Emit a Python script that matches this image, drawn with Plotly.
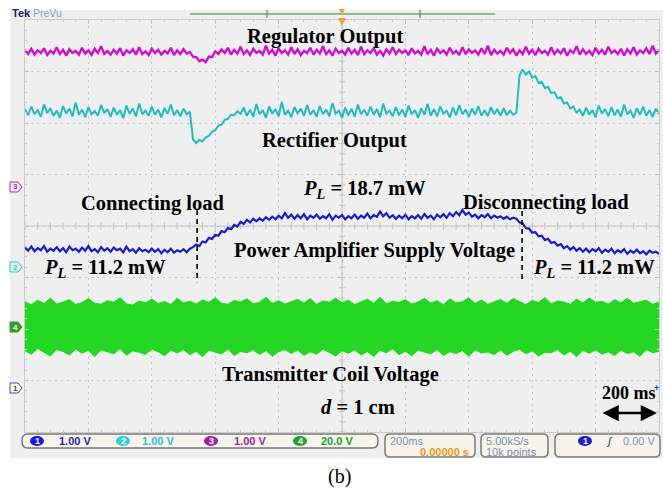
import plotly.graph_objects as go

W, H = 663, 491
SERIF = "Liberation Serif, Times New Roman, serif"
SANS = "Liberation Sans, Arial, sans-serif"

# ---------------- data (read from the scope capture) ----------------
time_ms = list(range(-1000, 1001, 10))          # 200 ms/div, 10 divisions
env_time_ms = list(range(-1000, 1001, 20))

ch_scale = {1: 1.0, 2: 1.0, 3: 1.0, 4: 20.0}      # V/div
ch_offset = {1: -3.15, 2: -0.80, 3: 0.76, 4: -1.96}  # ground marker position (div)
ch_volts_label = ["1.00 V", "1.00 V", "1.00 V", "20.0 V"]

# Channel 3 : Regulator Output (V)
regulator_v = [
    2.66, 2.58, 2.68, 2.57, 2.65, 2.60, 2.69, 2.56, 2.64, 2.59,
    2.71, 2.58, 2.66, 2.55, 2.67, 2.60, 2.64, 2.57, 2.70, 2.59,
    2.65, 2.56, 2.68, 2.60, 2.73, 2.58, 2.64, 2.57, 2.66, 2.59,
    2.69, 2.55, 2.65, 2.60, 2.67, 2.57, 2.71, 2.58, 2.63, 2.56,
    2.68, 2.60, 2.66, 2.57, 2.64, 2.59, 2.70, 2.56, 2.65, 2.58,
    2.67, 2.59,
    2.62, 2.53, 2.52, 2.44, 2.47, 2.42, 2.53, 2.52, 2.63,
    2.58, 2.67, 2.60, 2.70, 2.57, 2.66, 2.59, 2.72, 2.58, 2.65,
    2.56, 2.68, 2.60, 2.64, 2.57, 2.74, 2.59, 2.66, 2.55, 2.69,
    2.60, 2.65, 2.57, 2.71, 2.58, 2.67, 2.56, 2.64, 2.60, 2.70,
    2.57, 2.66, 2.59, 2.73, 2.58, 2.65, 2.55, 2.68, 2.60, 2.64,
    2.57, 2.70, 2.59, 2.66, 2.56, 2.72, 2.58, 2.65, 2.60, 2.69,
    2.57, 2.64, 2.55, 2.67, 2.59, 2.71, 2.58, 2.66, 2.60, 2.65,
    2.56, 2.69, 2.59, 2.64, 2.57, 2.73, 2.58, 2.66, 2.55, 2.68,
    2.60, 2.65, 2.57, 2.70, 2.59, 2.64, 2.56, 2.71, 2.58, 2.67,
    2.60, 2.65, 2.57, 2.69, 2.58, 2.74, 2.56, 2.66, 2.59, 2.64,
    2.57, 2.70, 2.60, 2.67, 2.55, 2.65, 2.58, 2.72, 2.59, 2.66,
    2.56, 2.68, 2.60, 2.64, 2.57, 2.71, 2.58, 2.66, 2.59, 2.69,
    2.55, 2.65, 2.60, 2.73, 2.57, 2.67, 2.58, 2.64, 2.56, 2.70,
    2.59, 2.66, 2.57, 2.72, 2.60, 2.65, 2.58, 2.68, 2.55, 2.67,
    2.59, 2.71, 2.57, 2.65, 2.60, 2.69, 2.58, 2.74, 2.59, 2.66,
]

# Channel 2 : Rectifier Output (V)
rectifier_v = [
    3.07, 2.95, 3.12, 2.97, 3.05, 2.92, 3.16, 2.99, 3.09, 2.94,
    3.04, 2.90, 3.13, 2.98, 3.08, 2.93, 3.20, 2.96, 3.06, 2.91,
    3.11, 2.97, 3.03, 2.94, 3.15, 2.99, 3.07, 2.92, 3.10, 2.96,
    3.05, 2.89, 3.14, 2.98, 3.08, 2.93, 3.18, 2.97, 3.04, 2.94,
    3.12, 2.96, 3.06, 2.91, 3.09, 2.98, 3.16, 2.95, 3.05, 2.93,
    3.08, 2.97,
    3.02, 2.48, 2.41, 2.47, 2.44, 2.52, 2.55, 2.63, 2.66, 2.75,
    2.77, 2.86, 2.88, 2.96, 2.95, 3.03, 2.98,
    3.10, 2.94, 3.06, 2.92, 3.17, 2.97, 3.05, 2.90, 3.12, 2.98,
    3.07, 2.93, 3.21, 2.96, 3.04, 2.91, 3.11, 2.99, 3.08, 2.94,
    3.15, 2.96, 3.05, 2.92, 3.13, 2.97, 3.06, 2.93, 3.19, 2.98,
    3.04, 2.90, 3.10, 2.95, 3.08, 2.92, 3.16, 2.97, 3.05, 2.94,
    3.12, 2.96, 3.07, 2.91, 3.18, 2.98, 3.04, 2.93, 3.11, 2.95,
    3.06, 2.92, 3.14, 2.97, 3.05, 2.90, 3.09, 2.96, 3.17, 2.94,
    3.07, 2.93, 3.12, 2.98, 3.04, 2.91, 3.10, 2.95, 3.15, 2.97,
    3.06, 2.92, 3.08, 2.96, 3.13, 2.94, 3.05, 2.93, 3.11, 2.97,
    3.07, 2.94, 3.09, 2.95, 3.04, 2.96,
    3.00, 3.72, 3.84, 3.74, 3.80, 3.68, 3.71, 3.58, 3.60, 3.48,
    3.50, 3.38, 3.40, 3.28, 3.30, 3.18, 3.20, 3.08, 3.12, 3.00, 3.06,
    2.94, 3.10, 2.96, 3.05, 2.91, 3.14, 2.98, 3.07, 2.93, 3.11,
    2.95, 3.06, 2.92, 3.16, 2.97, 3.04, 2.90, 3.09, 2.96, 3.12,
    2.94, 3.05, 2.92, 3.08, 2.97,
]

# Channel 1 : Power Amplifier Supply Voltage (V)
pa_supply_v = [
    2.73, 2.67, 2.75, 2.66, 2.72, 2.68, 2.76, 2.65, 2.71, 2.67,
    2.74, 2.66, 2.72, 2.64, 2.75, 2.68, 2.71, 2.65, 2.73, 2.67,
    2.76, 2.66, 2.70, 2.64, 2.74, 2.67, 2.72, 2.65, 2.73, 2.68,
    2.71, 2.64, 2.75, 2.66, 2.70, 2.63, 2.72, 2.66, 2.69, 2.64,
    2.71, 2.65, 2.70, 2.62, 2.69, 2.64, 2.71, 2.63, 2.68, 2.65,
    2.70, 2.64, 2.71,
    2.74, 2.79, 2.76, 2.85, 2.83, 2.92, 2.90, 2.98, 2.96, 3.05,
    3.03, 3.11, 3.09, 3.17, 3.14, 3.23, 3.19, 3.27, 3.22, 3.29,
    3.24, 3.30, 3.25, 3.32, 3.27, 3.33, 3.28, 3.35, 3.30,
    3.40, 3.31, 3.37, 3.29, 3.36, 3.30, 3.38, 3.28, 3.35, 3.31,
    3.37, 3.29, 3.34, 3.30, 3.38, 3.27, 3.35, 3.31, 3.36, 3.28,
    3.34, 3.30, 3.37, 3.29, 3.35, 3.31, 3.39, 3.30, 3.36, 3.33,
    3.43, 3.34, 3.40, 3.31, 3.36, 3.29, 3.35, 3.30, 3.37, 3.28,
    3.34, 3.30, 3.36, 3.29, 3.38, 3.31, 3.35, 3.28, 3.37, 3.32,
    3.38, 3.31, 3.40, 3.34, 3.42, 3.36, 3.46, 3.37, 3.41, 3.33,
    3.37, 3.30, 3.36, 3.32, 3.38, 3.30, 3.35, 3.31, 3.34, 3.29,
    3.33, 3.28, 3.31,
    3.29, 3.22, 3.20, 3.11, 3.10, 3.02, 3.03, 2.95, 2.96, 2.88,
    2.90, 2.82, 2.84, 2.77, 2.80, 2.72, 2.76, 2.69, 2.74, 2.67, 2.72,
    2.65, 2.71, 2.64, 2.70, 2.66, 2.72, 2.63, 2.69, 2.65, 2.71,
    2.62, 2.68, 2.64, 2.70, 2.61, 2.67, 2.63, 2.69, 2.62, 2.66,
    2.60, 2.67, 2.63, 2.65, 2.61,
]

# Channel 4 : Transmitter Coil Voltage envelope (V)
coil_upper_v = [
    9.8, 8.6, 10.4, 9.1, 11.2, 8.9, 9.7, 10.6, 8.7, 9.5, 11.0, 9.2, 8.8, 10.2, 9.6, 11.4, 9.0, 8.5, 10.1, 9.4,
    10.8, 9.1, 9.9, 8.7, 11.1, 9.3, 10.0, 8.9, 10.5, 9.6, 11.3, 9.2, 8.8, 10.3, 9.7, 10.9, 9.0, 9.5, 11.6, 9.1,
    10.2, 8.9, 9.8, 10.7, 9.3, 11.0, 8.8, 10.1, 9.6, 11.2, 9.4, 10.4, 8.7, 9.9, 10.8, 9.2, 11.5, 9.0, 10.0, 9.5,
    10.6, 8.9, 9.7, 11.1, 9.3, 10.2, 8.6, 10.9, 9.4, 9.8, 11.3, 9.1, 10.5, 8.8, 9.6, 10.7, 9.2, 11.0, 9.9, 8.7,
    10.3, 9.5, 11.4, 9.0, 10.1, 9.7, 8.8, 10.8, 9.3, 11.2, 9.6, 10.0, 8.9, 10.6, 9.4, 11.1, 9.2, 9.9, 10.4, 8.8, 9.7,
]
coil_lower_v = [
    -9.2, -10.6, -8.4, -9.9, -11.3, -8.8, -9.5, -10.9, -8.6, -10.2, -9.1, -11.5, -8.9, -9.7, -10.4, -8.5, -11.0, -9.3, -9.8, -10.7,
    -8.7, -9.6, -11.2, -9.0, -10.1, -8.8, -10.8, -9.4, -11.6, -9.1, -9.9, -10.5, -8.6, -11.1, -9.5, -10.0, -8.9, -10.7, -9.2, -11.4,
    -9.6, -8.8, -10.3, -9.0, -11.0, -9.7, -10.6, -8.7, -9.9, -11.3, -9.2, -10.2, -8.9, -10.9, -9.5, -11.5, -9.1, -10.0, -8.6, -10.8,
    -9.4, -11.2, -9.0, -9.8, -10.5, -8.8, -11.1, -9.6, -10.3, -9.2, -11.4, -8.9, -10.1, -9.7, -10.7, -9.0, -11.0, -9.5, -8.7, -10.4,
    -9.3, -11.3, -9.8, -10.0, -8.8, -10.9, -9.4, -11.6, -9.1, -10.2, -8.9, -10.6, -9.6, -11.1, -9.0, -10.3, -9.7, -11.4, -8.8, -10.0, -9.5,
]

event_ms = [-457, 568]            # connecting / disconnecting load

ch_color = {1: "#1c1cc8", 2: "#22bcbc", 3: "#cc10cc", 4: "#22d622"}
ch_width = {1: 2.2, 2: 2.0, 3: 2.4}

# ---------------- helpers ----------------
def px(x, y):
    return x / W, 1 - y / H

fig = go.Figure()
axes_for = {1: "y2", 2: "y3", 3: "y4", 4: "y5"}

# graticule centre ticks
tx, ty = [-1000, 1000, None, 0, 0, None], [0, 0, None, -4, 4, None]
for k in range(-25, 26):
    tx += [k * 40, k * 40, None]
    ty += [-0.07, 0.07, None]
for k in range(-20, 21):
    tx += [-10, 10, None]
    ty += [k * 0.2, k * 0.2, None]
fig.add_trace(go.Scatter(x=tx, y=ty, mode="lines", line=dict(color="#c4c4c4", width=1),
                         hoverinfo="skip", showlegend=False))

# coil voltage band
fig.add_trace(go.Scatter(x=env_time_ms, y=coil_upper_v, yaxis=axes_for[4], mode="lines",
                         line=dict(color=ch_color[4], width=1), showlegend=False))
fig.add_trace(go.Scatter(x=env_time_ms, y=coil_lower_v, yaxis=axes_for[4], mode="lines",
                         line=dict(color=ch_color[4], width=1), fill="tonexty",
                         fillcolor=ch_color[4], showlegend=False))

fig.add_trace(go.Scatter(x=time_ms, y=pa_supply_v, yaxis=axes_for[1], mode="lines",
                         line=dict(color=ch_color[1], width=ch_width[1]), showlegend=False))
fig.add_trace(go.Scatter(x=time_ms, y=rectifier_v, yaxis=axes_for[2], mode="lines",
                         line=dict(color=ch_color[2], width=ch_width[2]), showlegend=False))
fig.add_trace(go.Scatter(x=time_ms, y=regulator_v, yaxis=axes_for[3], mode="lines",
                         line=dict(color=ch_color[3], width=ch_width[3]), showlegend=False))

# event markers
for t, top in zip(event_ms, [0.31, 0.29]):
    fig.add_shape(type="line", xref="x", yref="y", x0=t, x1=t, y0=top, y1=-1.09,
                  line=dict(color="black", width=1.6, dash="5px,4px"))

shapes = []
x0, y0 = px(10, 10); x1, y1 = px(663, 458)
shapes.append(dict(type="rect", xref="paper", yref="paper", x0=x0, y0=y1, x1=x1, y1=y0,
                   fillcolor="#efefef", line=dict(width=0), layer="below"))

def P(x, y):
    a, b = px(x, y)
    return f"{a:.5f},{b:.5f}"

def rr_path(xa, ya, xb, yb, r):
    return (f"M{P(xa + r, ya)} L{P(xb - r, ya)} Q{P(xb, ya)} {P(xb, ya + r)} "
            f"L{P(xb, yb - r)} Q{P(xb, yb)} {P(xb - r, yb)} L{P(xa + r, yb)} "
            f"Q{P(xa, yb)} {P(xa, yb - r)} L{P(xa, ya + r)} Q{P(xa, ya)} {P(xa + r, ya)} Z")

for (xa, ya, xb, yb, r) in [(22, 434, 378, 448, 6), (385, 434, 475, 457, 5),
                            (481, 434, 548, 457, 5), (555, 434, 660, 457, 5)]:
    shapes.append(dict(type="path", xref="paper", yref="paper", path=rr_path(xa, ya, xb, yb, r),
                       fillcolor="#f6f4ec", line=dict(color="#7a7a7a", width=1.5)))

def circ(cx, cy, color, rx=7, ry=5):
    a0, b1 = px(cx - rx, cy - ry); a1, b0 = px(cx + rx, cy + ry)
    return dict(type="circle", xref="paper", yref="paper", x0=a0, x1=a1, y0=b0, y1=b1,
                fillcolor=color, line=dict(width=0))

circle_col = {1: "#1a1ad0", 2: "#30d0d0", 3: "#a020a0", 4: "#20a030"}
label_col = {1: "#2a2aa0", 2: "#30c4c4", 3: "#9a2a9a", 4: "#20a030"}
circle_x = {1: 37, 2: 123, 3: 211, 4: 300}
for ch in (1, 2, 3, 4):
    shapes.append(circ(circle_x[ch], 441, circle_col[ch]))
shapes.append(circ(585, 441, circle_col[1]))

marker_y = {3: 187, 2: 267, 4: 327, 1: 388}
marker_style = {3: ("#f3e6f3", "#a040b0", "#a040b0"), 2: ("#e4f8f8", "#30c0c0", "#30c0c0"),
                4: ("#30a030", "#30a030", "white"), 1: ("#fbf6d8", "#5050a0", "#404090")}
for ch, yy in marker_y.items():
    pts = [(10, yy - 5), (18, yy - 5), (22, yy), (18, yy + 5), (10, yy + 5)]
    path = "M" + " L".join(P(a, b) for a, b in pts) + " Z"
    shapes.append(dict(type="path", xref="paper", yref="paper", path=path,
                       fillcolor=marker_style[ch][0], line=dict(color=marker_style[ch][1], width=1)))

def pline(xa, ya, xb, yb, color, width):
    a0, b0 = px(xa, ya); a1, b1 = px(xb, yb)
    return dict(type="line", xref="paper", yref="paper", x0=a0, y0=b0, x1=a1, y1=b1,
                line=dict(color=color, width=width))
shapes.append(pline(190, 14, 495, 14, "#5cb85c", 1.5))
shapes.append(pline(267, 10, 267, 18, "#666666", 1))
shapes.append(pline(420, 10, 420, 18, "#666666", 1))
for (cx, cy, s) in [(342, 12, 3), (342, 22, 4)]:
    path = f"M{P(cx - s, cy - s)} L{P(cx + s, cy - s)} L{P(cx, cy + s)} Z"
    shapes.append(dict(type="path", xref="paper", yref="paper", path=path,
                       fillcolor="#f0a040", line=dict(width=0)))

for s in shapes:
    fig.add_shape(**s)

ann = []
def A(x, y, text, size=20.5, color="black", family=SERIF, xanchor="center", yanchor="middle"):
    a, b = px(x, y)
    ann.append(dict(x=a, y=b, xref="paper", yref="paper", text=text, showarrow=False,
                    font=dict(size=size, color=color, family=family),
                    xanchor=xanchor, yanchor=yanchor))

A(325, 36, "<b>Regulator Output</b>")
A(334, 140, "<b>Rectifier Output</b>")
A(364, 190, "<b><i>P<sub>L</sub></i> = 18.7 mW</b>")
A(153, 203, "<b>Connecting load</b>")
A(546, 202, "<b>Disconnecting load</b>")
A(374, 250, "<b>Power Amplifier Supply Voltage</b>")
A(105, 268, "<b><i>P<sub>L</sub></i> = 11.2 mW</b>")
A(594, 268, "<b><i>P<sub>L</sub></i> = 11.2 mW</b>")
A(330, 374, "<b>Transmitter Coil Voltage</b>")
A(358, 407, "<b><i>d</i> = 1 cm</b>")
A(629, 393, "<b>200 ms</b>", size=18)
A(656, 388, "<b>+</b>", size=9, color="#2040d0", family=SANS)
A(340, 476, "(b)", size=20)

a, b = px(657, 413)
ann.append(dict(x=a, y=b, xref="paper", yref="paper", text="", showarrow=True,
                ax=-56, ay=0, axref="pixel", ayref="pixel", arrowside="end+start",
                arrowhead=2, arrowsize=1.3, arrowwidth=2.5, arrowcolor="black"))

A(10, 13, "<b>Tek</b>", size=11, color="#2a1a5e", family=SANS, xanchor="left")
A(31, 13, "PreVu", size=10.5, color="#8a96c8", family=SANS, xanchor="left")

for ch, yy in marker_y.items():
    A(15, yy, f"<b>{ch}</b>", size=8, color=marker_style[ch][2], family=SANS)

label_x = {1: 57, 2: 140, 3: 232, 4: 319}
for ch in (1, 2, 3, 4):
    A(circle_x[ch], 441, f"<b>{ch}</b>", size=9, color="white", family=SANS)
    A(label_x[ch], 441, f"<b>{ch_volts_label[ch - 1]}</b>", size=11, color=label_col[ch],
      family=SANS, xanchor="left")
A(388, 441, "200ms", size=11, color="#7f8fb0", family=SANS, xanchor="left")
A(471, 452, "<b>0.00000 s</b>", size=11, color="#e89a20", family=SANS, xanchor="right")
A(484, 441, "5.00kS/s", size=11, color="#7f8fb0", family=SANS, xanchor="left")
A(484, 452, "10k points", size=11, color="#7f8fb0", family=SANS, xanchor="left")
A(585, 441, "<b>1</b>", size=9, color="white", family=SANS)
A(609, 441, "<i>ʃ</i>", size=11, color="#303080", family=SANS)
A(657, 441, "0.00 V", size=11, color="#8a96b8", family=SANS, xanchor="right")

ydom = [1 - 432 / H, 1 - 20 / H]
layout = dict(
    width=W, height=H, margin=dict(l=0, r=0, t=0, b=0),
    paper_bgcolor="white", plot_bgcolor="#efefef", showlegend=False,
    annotations=ann,
    xaxis=dict(domain=[25 / W, 659 / W], range=[-1000, 1000], showgrid=True, dtick=200, tick0=-1000,
               gridcolor="#c6c6c6", griddash="2px,4px", gridwidth=1, zeroline=False,
               showticklabels=False, ticks="inside", ticklen=4, tickcolor="#c4c4c4",
               showline=True, linecolor="#cccccc", mirror="ticks",
               minor=dict(dtick=40, ticks="inside", ticklen=2, tickcolor="#cccccc"), fixedrange=True),
    yaxis=dict(domain=ydom, range=[-4, 4], showgrid=True, dtick=1, tick0=-4,
               gridcolor="#c6c6c6", griddash="2px,4px", gridwidth=1, zeroline=False,
               showticklabels=False, ticks="inside", ticklen=4, tickcolor="#c4c4c4",
               showline=True, linecolor="#cccccc", mirror="ticks",
               minor=dict(dtick=0.2, ticks="inside", ticklen=2, tickcolor="#cccccc"), fixedrange=True),
)
for ch, ax in axes_for.items():
    layout["yaxis" + ax[1:]] = dict(overlaying="y", visible=False, fixedrange=True,
                                    range=[(-4 - ch_offset[ch]) * ch_scale[ch],
                                           (4 - ch_offset[ch]) * ch_scale[ch]])
fig.update_layout(**layout)

fig.write_html("out.html", config={"displayModeBar": False},
               post_script="document.body.style.margin='0px';document.body.style.overflow='hidden';")
